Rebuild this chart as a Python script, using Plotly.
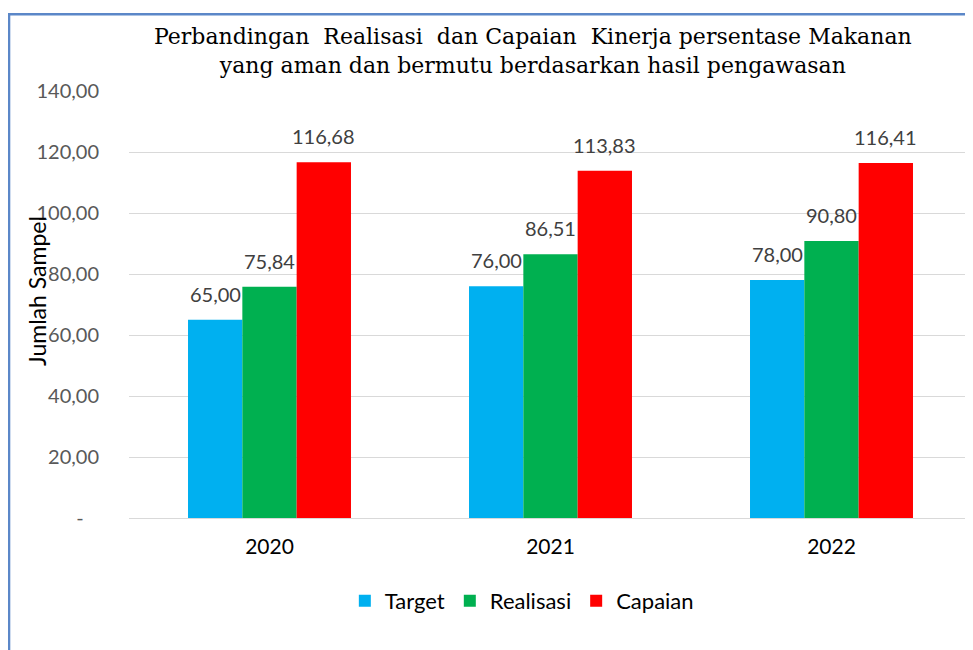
import plotly.graph_objects as go

years = ["2020", "2021", "2022"]
target = [65.00, 76.00, 78.00]
realisasi = [75.84, 86.51, 90.80]
capaian = [116.68, 113.83, 116.41]
series_names = ["Target", "Realisasi", "Capaian"]
colors = ["#00B0F0", "#00B050", "#FF0000"]
y_tick_vals = [0, 20, 40, 60, 80, 100, 120, 140]
y_tick_text = ["-\u00a0\u00a0\u00a0", "20,00", "40,00", "60,00", "80,00", "100,00", "120,00", "140,00"]

label_font = "Lato, 'Open Sans', sans-serif"

W, H = 965, 642
ML, MR, MT, MB = 121, 1, 83, 132
BARGAP = 0.42
plot_w = W - ML - MR
cat_px = plot_w / len(years)
bar_px = cat_px * (1 - BARGAP) / len(series_names)

fig = go.Figure()
annotations = []
all_vals = [target, realisasi, capaian]
for i, (name, vals, col) in enumerate(zip(series_names, all_vals, colors)):
    fig.add_trace(go.Bar(
        x=years, y=vals, name=name, marker=dict(color=col, line=dict(width=0)),
    ))
    for j, v in enumerate(vals):
        annotations.append(dict(
            x=j, y=v, xref="x", yref="y", text=f"{v:.2f}".replace(".", ","),
            showarrow=False, yanchor="bottom", xanchor="center",
            xshift=(i - 1) * bar_px, yshift=12,
            font=dict(family=label_font, size=20, color="#404040"),
        ))

annotations.append(dict(text="Jumlah Sampel", textangle=-90, x=-0.109, y=0.532,
                        xref="paper", yref="paper", showarrow=False,
                        xanchor="center", yanchor="middle",
                        font=dict(family=label_font, size=23, color="#000000")))
annotations.append(dict(
    text="Perbandingan  Realisasi  dan Capaian  Kinerja persentase Makanan<br>yang aman dan bermutu berdasarkan hasil pengawasan",
    x=0.479, y=1.094, xref="paper", yref="paper", xanchor="center", yanchor="middle",
    showarrow=False, align="center",
    font=dict(family="'DejaVu Serif', serif", size=22, color="#000000"),
))

fig.update_layout(
    width=W, height=H,
    barmode="group", bargap=BARGAP, bargroupgap=0,
    plot_bgcolor="white", paper_bgcolor="white",
    margin=dict(l=ML, r=MR, t=MT, b=MB),
    showlegend=True,
    legend=dict(orientation="h", x=0.466, xanchor="center", y=-0.145, yanchor="top",
                font=dict(family=label_font, size=22, color="#000000"),
                itemsizing="constant", traceorder="normal", itemwidth=30),
    xaxis=dict(type="category", showgrid=False, showline=False, ticks="",
               ticklabelstandoff=14, range=[-0.5, 2.5],
               tickfont=dict(family=label_font, size=21, color="#000000")),
    yaxis=dict(range=[0, 140], tickvals=y_tick_vals, ticktext=y_tick_text,
               showgrid=True, gridcolor="#D9D9D9", gridwidth=1.3,
               zeroline=True, zerolinecolor="#D9D9D9", zerolinewidth=1.3,
               showline=False, ticks="", ticklabelstandoff=29,
               tickfont=dict(family=label_font, size=20, color="#595959")),
    annotations=annotations,
    shapes=[dict(type="rect", xref="paper", yref="paper", x0=-0.1423, x1=1.2,
                 y0=-0.5, y1=1.18, line=dict(color="#5B87C8", width=2.5),
                 layer="above")],
)

fig.write_html("out.html")
